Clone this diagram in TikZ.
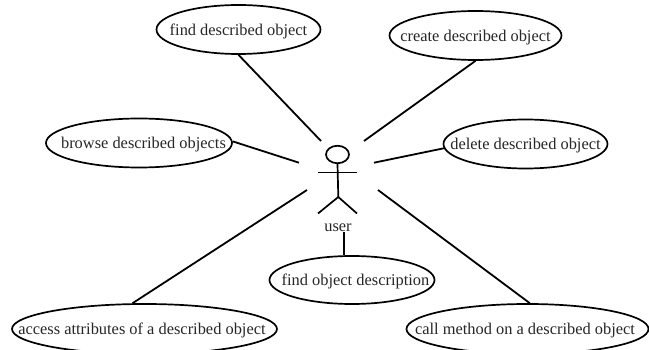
\documentclass[tikz,border=0pt]{standalone}
\usepackage{fontspec}
\setmainfont{Liberation Serif}
\usetikzlibrary{shapes.geometric}
\newcommand\uctext[2][0pt]{\smash{\makebox[0pt]{\hspace*{#1}\raisebox{-0.36em}{#2}}}}
\tikzset{
  usecase/.style={ellipse,draw=black,line width=1.7pt,fill=white,inner sep=0pt,text=black!85,font=\fontsize{16.4}{18}\selectfont},
  conn/.style={draw=black,line width=1.8pt},
  actorline/.style={draw=black,line width=1.7pt}
}
\begin{document}
\begin{tikzpicture}[x=1pt,y=-1pt]
\useasboundingbox (0,0) rectangle (649,350);
\clip (0,0) rectangle (649,350);
\node[usecase,minimum width=164pt,minimum height=49pt] (find) at (238.5,29.5) {\uctext{find described object}};
\node[usecase,minimum width=172pt,minimum height=49pt] (create) at (475.5,35.5) {\uctext{create described object}};
\node[usecase,minimum width=186pt,minimum height=49pt] (browse) at (139,143) {\uctext[9pt]{browse described objects}};
\node[usecase,minimum width=164pt,minimum height=49pt] (delete) at (525.5,144) {\uctext{delete described object}};
\node[usecase,minimum width=165pt,minimum height=48pt] (desc) at (352,280) {\uctext[7pt]{find object description}};
\node[usecase,minimum width=265pt,minimum height=50pt] (access) at (144.5,329) {\uctext[-5pt]{access attributes of a described object}};
\node[usecase,minimum width=242pt,minimum height=50pt] (call) at (527.5,329) {\uctext[-5pt]{call method on a described object}};
% actor
\node[ellipse,draw=black,line width=1.7pt,minimum width=23pt,minimum height=17.5pt,inner sep=0pt] (head) at (337.5,154.5) {};
\coordinate (armL) at (318,172.5);
\coordinate (armR) at (357,172.5);
\coordinate (hip) at (338.3,197);
\coordinate (legL) at (318,213.5);
\coordinate (legR) at (357,213.5);
\draw[actorline] (armL) -- (armR);
\draw[actorline] (head.south) -- (hip);
\draw[actorline] (legL) -- (hip) -- (legR);
\node[text=black!85,font=\fontsize{16.4}{18}\selectfont,inner sep=0pt] (user) at (338,227.5) {user};
% free ends
\coordinate (e1) at (321,141);
\coordinate (e2) at (364,141);
\coordinate (e3) at (299,162.7);
\coordinate (e4) at (374,162.7);
\coordinate (e5) at (307,190);
\coordinate (e6) at (378,190);
\coordinate (e7) at (344.3,232.5);
\draw[conn] (find.south) -- (e1);
\draw[conn] (create.south) -- (e2);
\draw[conn] (browse.1) -- (e3);
\draw[conn] (delete.183) -- (e4);
\draw[conn] (access.115) -- (e5);
\draw[conn] (call.85) -- (e6);
\path (desc.north) ++(-7.7,0) coordinate (descTop);
\draw[conn] (e7) -- (e7 |- descTop);
\end{tikzpicture}
\end{document}
